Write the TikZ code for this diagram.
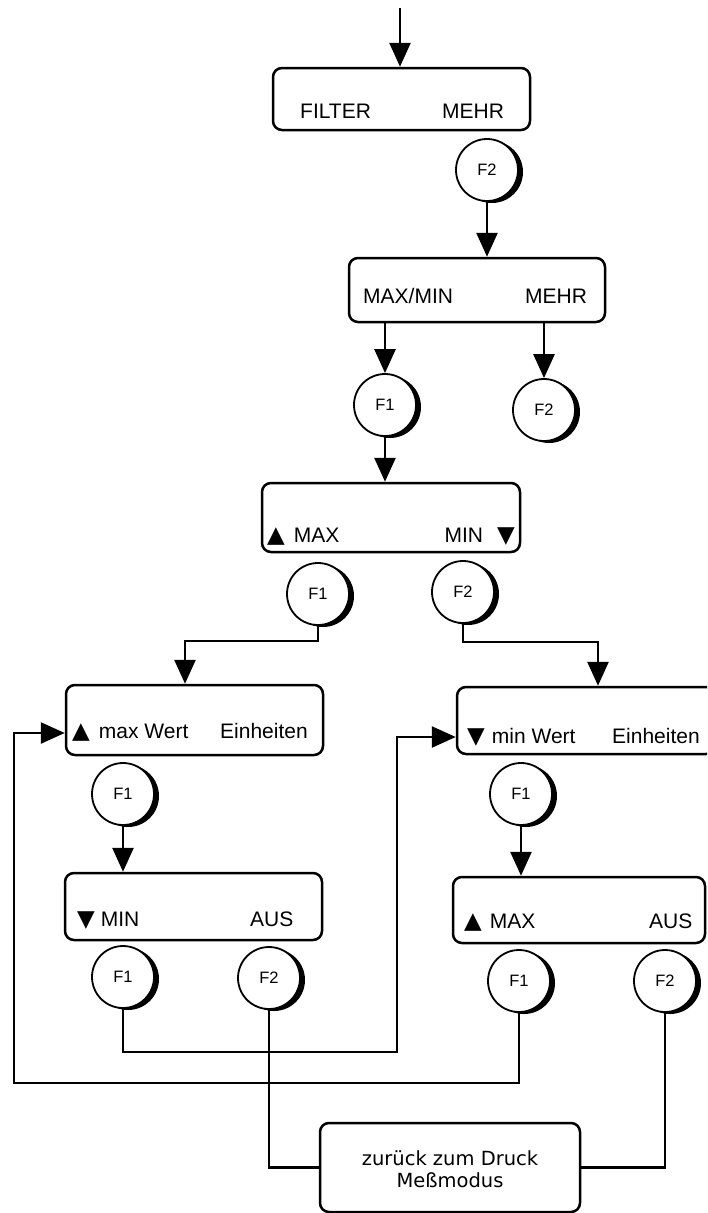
\documentclass[tikz,border=0pt]{standalone}
\usepackage{fontspec}
\setmainfont{Liberation Sans}
\newfontfamily\symfont{DejaVu Sans}
\newfontfamily\widefont{DejaVu Sans}
\usetikzlibrary{arrows.meta,shadows}
\newcommand{\up}{{\symfont\fontsize{23}{25}\selectfont ▲}}
\newcommand{\dn}{{\symfont\fontsize{23}{25}\selectfont ▼}}
\begin{document}
\begin{tikzpicture}[x=1pt,y=-1pt,
  box/.style={draw,line width=2.5pt,rounded corners=9pt,inner sep=0pt},
  key/.style={circle,draw,line width=1.8pt,fill=white,minimum size=62pt,inner sep=0pt,
    font=\fontsize{16.5}{19}\selectfont,
    drop shadow={shadow xshift=5pt,shadow yshift=-2pt,fill=black,opacity=1}},
  lbl/.style={anchor=base west,inner sep=0pt,font=\fontsize{21}{25}\selectfont},
  conn/.style={line width=2.7pt},
  arr/.style={conn,-{Triangle[width=21pt,length=24pt]}},
]
\useasboundingbox (0,0) rectangle (707,1213);
\clip (0,0) rectangle (707,1213);

% helper y-levels
\coordinate (y733) at (0,733);
\coordinate (y737) at (0,737);

% boxes
\node[box,minimum width=257pt,minimum height=62pt] (b1) at (401.5,99) {};
\node[box,minimum width=256pt,minimum height=64pt] (b2) at (477,290) {};
\node[box,minimum width=258pt,minimum height=69pt] (b3) at (391,517.5) {};
\node[box,minimum width=257pt,minimum height=70pt] (b4) at (194.5,720) {};
\node[box,minimum width=258pt,minimum height=67pt] (b6) at (586,720.5) {};
\node[box,minimum width=257pt,minimum height=67pt] (b5) at (193.5,906.5) {};
\node[box,minimum width=252pt,minimum height=66pt] (b8) at (579,910) {};
\node[box,minimum width=260pt,minimum height=89pt] (b7) at (450,1167.5) {};

% labels
\node[lbl] (t1a) at (300,118) {FILTER};
\node[lbl] (t1b) at (442,118) {MEHR};
\node[lbl] (t2a) at (363,303) {MAX/MIN};
\node[lbl] (t2b) at (525,303) {MEHR};
\node[lbl] (t3a) at (267,542) {\up\hspace{9pt}MAX};
\node[lbl,anchor=base east] (t3b) at (515,542) {MIN\hspace{14pt}\dn};
\node[lbl] (t4a) at (72,738) {\up\hspace{9pt}max Wert};
\node[lbl] (t4b) at (220,738) {Einheiten};
\node[lbl] (t6a) at (467,743) {\dn\hspace{7pt}min Wert};
\node[lbl] (t6b) at (612,743) {Einheiten};
\node[lbl] (t5a) at (77,926) {\dn\hspace{6pt}MIN};
\node[lbl] (t5b) at (250,926) {AUS};
\node[lbl] (t8a) at (464,928) {\up\hspace{8pt}MAX};
\node[lbl] (t8b) at (649,928) {AUS};
\node[anchor=base,inner sep=0pt,font=\widefont\fontsize{19.5}{22}\selectfont] (t7a) at (450,1165) {zurück zum Druck};
\node[anchor=base,inner sep=0pt,font=\widefont\fontsize{19.5}{22}\selectfont] (t7b) at (450,1187) {Meßmodus};

% connectors (drawn before keys so circles sit on top)
\coordinate (start) at (400,8);
\draw[arr] (start) -- (start |- b1.north);
\coordinate (k1) at (185,641);
\coordinate (k2) at (598,642);
\coordinate (l1) at (397,1052);
\coordinate (l2) at (14,1083);

% keys
\node[key] (F2a) at (487,170) {F2};
\node[key] (F1b) at (385,405) {F1};
\node[key] (F2b) at (544,410) {F2};
\node[key] (F1c) at (318,594) {F1};
\node[key] (F2c) at (463,592) {F2};
\node[key] (F1d) at (123,794) {F1};
\node[key] (F1e) at (521,794) {F1};
\node[key] (F1f) at (123,977) {F1};
\node[key] (F2f) at (269,978) {F2};
\node[key] (F1g) at (519,981) {F1};
\node[key] (F2g) at (665,981) {F2};

\draw[arr] (F2a.south) -- (F2a.south |- b2.north);
\draw[arr] (F1b.north |- b2.south) -- (F1b.north);
\draw[arr] (F2b.north |- b2.south) -- (F2b.north);
\draw[arr] (F1b.south) -- (F1b.south |- b3.north);
\draw[arr] (F1c.south) |- (k1) -- (k1 |- b4.north);
\draw[arr] (F2c.south) |- (k2) -- (k2 |- b6.north);
\draw[arr] (F1d.south) -- (F1d.south |- b5.north);
\draw[arr] (F1e.south) -- (F1e.south |- b8.north);
\draw[arr] (F1f.south) |- (l1) |- (b6.west |- y737);
\draw[arr] (F1g.south) |- (l2) |- (b4.west |- y733);
\draw[conn] (F2f.south) |- (b7.west);
\draw[conn] (F2g.south) |- (b7.east);
\end{tikzpicture}
\end{document}
